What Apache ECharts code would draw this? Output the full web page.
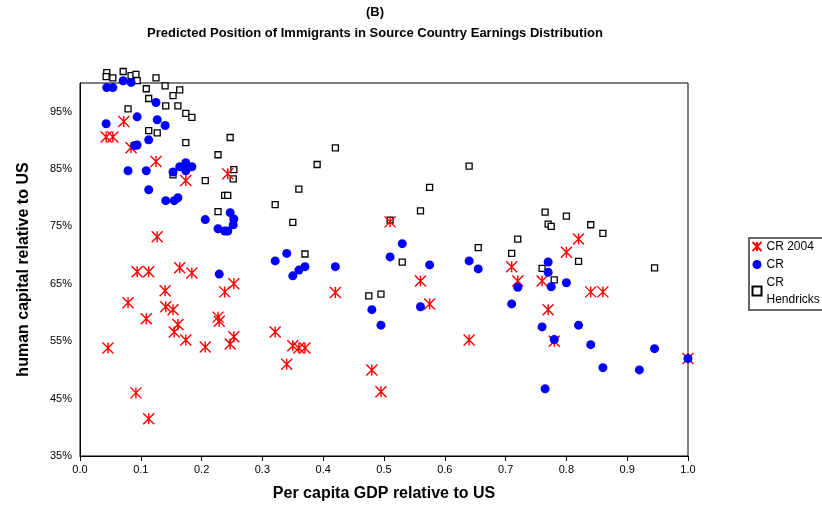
<!DOCTYPE html>
<html>
<head>
<meta charset="utf-8">
<script src="https://cdn.jsdelivr.net/npm/echarts@6/dist/echarts.min.js"></script>
<style>html,body{margin:0;background:#fff}#chart{width:822px;height:514px}</style>
</head>
<body>
<div id="chart"></div>
<script>
// [GDP relative to US, human capital % relative to US]
var cr2004 = [[.072,93.3],[.043,90.6],[.054,90.6],[.084,88.7],[.125,86.3],[.174,83.0],[.243,84.2],[.127,73.2],
  [.094,67.1],[.113,67.1],[.164,67.8],[.184,66.9],[.140,63.8],[.079,61.7],[.141,61.0],[.153,60.5],[.109,58.9],
  [.161,57.9],[.155,56.6],[.174,55.2],[.206,54.0],[.046,53.8],[.227,59.2],[.229,58.5],[.253,65.0],[.238,63.6],
  [.253,55.8],[.247,54.5],[.321,56.6],[.092,46.0],[.113,41.5],[.35,54.2],[.36,53.8],[.37,53.8],[.34,51.0],
  [.42,63.5],[.48,50.0],[.495,46.2],[.51,75.8],[.56,65.5],[.575,61.5],[.64,55.2],[.71,68.0],[.72,65.5],
  [.76,65.5],[.77,60.5],[.78,55.0],[.80,70.5],[.82,72.8],[.84,63.6],[.86,63.6],[1.0,52.0]];
var crBase = [[.044,99.2],[.054,99.2],[.071,100.4],[.084,100.1],[.043,92.9],[.094,94.1],[.125,96.6],[.127,93.6],
  [.140,92.6],[.090,89.1],[.094,89.2],[.113,90.1],[.079,84.7],[.109,84.7],[.113,81.4],[.153,84.5],[.164,85.4],
  [.174,86.1],[.184,85.4],[.174,84.7],[.141,79.5],[.155,79.5],[.161,80.0],[.206,76.2],[.227,74.6],[.238,74.2],
  [.243,74.2],[.247,77.4],[.253,76.3],[.252,75.3],[.321,69.0],[.229,66.7],[.34,70.3],[.35,66.4],[.36,67.4],
  [.37,68.0],[.42,68.0],[.48,60.5],[.495,57.8],[.51,69.7],[.53,72.0],[.56,61.0],[.575,68.3],[.64,69.0],
  [.655,67.6],[.71,61.5],[.72,64.4],[.76,57.5],[.765,46.7],[.77,68.8],[.77,67.0],[.775,64.5],[.78,55.3],
  [.80,65.2],[.82,57.8],[.84,54.4],[.86,50.4],[.92,50.0],[.945,53.7],[1.0,52.0]];
var crHendricks = [[.044,101.8],[.043,101.1],[.054,100.9],[.071,102.0],[.084,101.3],[.092,101.5],[.094,100.4],
  [.125,100.9],[.140,99.5],[.109,99.0],[.164,98.8],[.153,97.8],[.113,97.3],[.141,96.0],[.161,96.0],[.079,95.5],
  [.174,94.7],[.184,94.0],[.113,91.7],[.127,91.3],[.247,90.5],[.174,89.6],[.227,87.5],[.253,84.9],[.252,83.3],
  [.153,84.0],[.206,83.0],[.238,80.4],[.243,80.4],[.321,78.8],[.227,77.6],[.39,85.8],[.42,88.7],[.36,81.5],
  [.35,75.7],[.37,70.2],[.475,62.9],[.495,63.2],[.51,76.1],[.53,68.8],[.56,77.7],[.575,81.8],[.64,85.5],
  [.655,71.3],[.72,72.8],[.71,70.3],[.765,77.5],[.77,75.4],[.775,75.0],[.76,67.7],[.78,65.7],[.80,76.8],
  [.84,75.3],[.86,73.8],[.82,68.9],[.945,67.8]];

var star = 'path://M0,0L10,10M10,0L0,10M5,0L5,10';
var chart = echarts.init(document.getElementById('chart'));
chart.setOption({
  backgroundColor: '#fff',
  animation: false,
  textStyle: {fontFamily: 'Liberation Sans, Arial, sans-serif'},
  title: {
    text: '(B)\nPredicted Position of Immigrants in Source Country Earnings Distribution',
    left: 370, top: -3, textAlign: 'center',
    textStyle: {fontSize: 13, fontWeight: 'bold', lineHeight: 21, color: '#000'}
  },
  grid: {left: 80, right: 134, top: 83, bottom: 58, show: true, borderColor: '#000', borderWidth: 1},
  legend: {
    orient: 'vertical', left: 749, top: 238, itemGap: 1, itemWidth: 9, itemHeight: 9,
    borderColor: '#666', borderWidth: 2, padding: [0, 4, 2, 1],
    textStyle: {fontSize: 12, color: '#000', width: 55, overflow: 'break', lineHeight: 17},
    data: ['CR 2004', 'CR', 'CR Hendricks']
  },
  xAxis: {
    type: 'value', min: 0, max: 1, interval: 0.1,
    name: 'Per capita GDP relative to US', nameLocation: 'middle', nameGap: 30,
    nameTextStyle: {fontSize: 16, fontWeight: 'bold', color: '#000'},
    axisLine: {lineStyle: {color: '#000'}}, axisTick: {show: true, inside: false},
    axisLabel: {color: '#000', fontSize: 11, formatter: function (v) { return v.toFixed(1); }},
    splitLine: {show: false}
  },
  yAxis: {
    type: 'value', min: 35, max: 100, interval: 5,
    name: 'human capital relative to US', nameLocation: 'middle', nameGap: 48,
    nameTextStyle: {fontSize: 16, fontWeight: 'bold', color: '#000'},
    axisLine: {show: true, lineStyle: {color: '#000'}}, axisTick: {show: false},
    axisLabel: {color: '#000', fontSize: 11, formatter: function (v) {
      return (Math.round(v - 35) % 10 === 0 && v < 100) ? v + '%' : '';
    }},
    splitLine: {show: false}
  },
  series: [
    {name: 'CR Hendricks', type: 'scatter', clip: false, data: crHendricks, symbol: 'rect', symbolSize: 6,
      itemStyle: {color: '#fff', borderColor: '#000', borderWidth: 1.3, opacity: 1}},
    {name: 'CR 2004', type: 'scatter', clip: false, data: cr2004, symbol: star, symbolSize: 11,
      itemStyle: {color: 'none', borderColor: '#f00', borderWidth: 1.4, opacity: 1}},
    {name: 'CR', type: 'scatter', clip: false, data: crBase, symbol: 'circle', symbolSize: 9,
      itemStyle: {color: '#00f', opacity: 1}}
  ]
});
</script>
</body>
</html>
